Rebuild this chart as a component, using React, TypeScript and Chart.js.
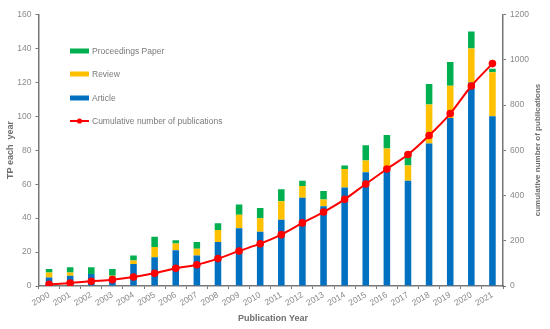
import React, { useEffect, useRef } from "react";
import { Chart, registerables } from "chart.js";

Chart.register(...registerables);

const years = ["2000","2001","2002","2003","2004","2005","2006","2007","2008","2009","2010","2011","2012","2013","2014","2015","2016","2017","2018","2019","2020","2021"];
const article = [5, 6, 7, 5, 13, 17, 21, 18, 26, 34, 32, 39, 52, 47, 58, 67, 68, 62, 84, 99, 120, 100];
const review = [3, 2, 0, 1, 2, 6, 4, 4, 7, 8, 8, 11, 7, 4, 11, 7, 13, 9, 23, 19, 20, 26];
const proceedings = [2, 3, 4, 4, 3, 6, 2, 4, 4, 6, 6, 7, 3, 5, 2, 9, 8, 8, 12, 14, 10, 2];
const cumulative = [7, 13, 21, 28, 40, 56, 78, 94, 121, 155, 187, 227, 279, 327, 383, 451, 517, 581, 665, 762, 884, 983];

const legendLabels = ["Proceedings Paper", "Review", "Article", "Cumulative number of publications"];
const leftTitle = "TP each  year";
const rightTitle = "cumulative number of publications";
const bottomTitle = "Publication Year";

const BLUE = "#0070C0";
const YELLOW = "#FFC000";
const GREEN = "#00B050";
const RED = "#FF0000";
const GREY = "#8a8a8a";
const AXIS = "#777777";
const FONT = "'Liberation Sans', Arial, Helvetica, sans-serif";

const overlayPlugin = {
  id: "overlay",
  afterDraw(chart: any) {
    const ctx = chart.ctx;
    ctx.save();
    const colors = [GREEN, YELLOW, BLUE];
    const ys = [51, 74, 98, 121];
    ctx.font = `8.5px ${FONT}`;
    ctx.textBaseline = "middle";
    ctx.textAlign = "left";
    for (let i = 0; i < 4; i++) {
      const y = ys[i];
      if (i < 3) {
        ctx.fillStyle = colors[i];
        ctx.fillRect(70, y - 2.5, 19, 5);
      } else {
        ctx.strokeStyle = RED;
        ctx.lineWidth = 2;
        ctx.beginPath();
        ctx.moveTo(70, y);
        ctx.lineTo(89, y);
        ctx.stroke();
        ctx.fillStyle = RED;
        ctx.beginPath();
        ctx.arc(79.5, y, 2.6, 0, Math.PI * 2);
        ctx.fill();
      }
      ctx.fillStyle = "#7a7a7a";
      ctx.fillText(legendLabels[i], 92, y + 0.5);
    }
    ctx.fillStyle = "#6e6e6e";
    ctx.font = `bold 9px ${FONT}`;
    ctx.textAlign = "center";
    ctx.fillText(bottomTitle, 273, 319);
    ctx.save();
    ctx.translate(11, 150);
    ctx.rotate(-Math.PI / 2);
    ctx.fillText(leftTitle, 0, 0);
    ctx.restore();
    ctx.save();
    ctx.font = `bold 8px ${FONT}`;
    ctx.translate(538, 150);
    ctx.rotate(-Math.PI / 2);
    ctx.fillText(rightTitle, 0, 0);
    ctx.restore();
    ctx.restore();
  },
};

export default function App() {
  const ref = useRef<HTMLCanvasElement>(null);
  useEffect(() => {
    if (!ref.current) return;
    const chart = new Chart(ref.current, {
      type: "bar",
      data: {
        labels: years,
        datasets: [
          {
            type: "line",
            label: legendLabels[3],
            data: cumulative,
            yAxisID: "y1",
            borderColor: RED,
            backgroundColor: RED,
            borderWidth: 2,
            pointRadius: 2.8,
            pointBackgroundColor: RED,
            pointBorderColor: RED,
            cubicInterpolationMode: "monotone",
            order: 0,
          } as any,
          {
            label: legendLabels[2],
            data: article,
            backgroundColor: BLUE,
            yAxisID: "y",
            stack: "s",
            order: 1,
            barPercentage: 0.31,
            categoryPercentage: 1,
          },
          {
            label: legendLabels[1],
            data: review,
            backgroundColor: YELLOW,
            yAxisID: "y",
            stack: "s",
            order: 1,
            barPercentage: 0.31,
            categoryPercentage: 1,
          },
          {
            label: legendLabels[0],
            data: proceedings,
            backgroundColor: GREEN,
            yAxisID: "y",
            stack: "s",
            order: 1,
            barPercentage: 0.31,
            categoryPercentage: 1,
          },
        ],
      },
      options: {
        responsive: false,
        animation: false,
        layout: { padding: { top: 14.5, left: 0, right: 0, bottom: 0 } },
        plugins: { legend: { display: false }, tooltip: { enabled: false } },
        scales: {
          x: {
            stacked: true,
            offset: true,
            grid: { display: true, drawOnChartArea: false, offset: true, tickLength: 3, color: AXIS, lineWidth: 1 },
            border: { display: true, color: AXIS, width: 1.5 },
            ticks: { color: GREY, font: { size: 8.5, family: FONT }, minRotation: 30, maxRotation: 30, autoSkip: false, padding: 1 },
            afterFit: (s: any) => { s.height = 43; },
          },
          y: {
            stacked: true,
            position: "left",
            min: 0,
            max: 160,
            ticks: { stepSize: 20, color: GREY, font: { size: 8.5, family: FONT }, padding: 4, callback: (v: any) => String(v) },
            grid: { display: true, drawOnChartArea: false, tickLength: 3, color: AXIS },
            border: { display: true, color: AXIS, width: 1.5 },
            afterFit: (s: any) => { s.width = 38.5; },
          },
          y1: {
            position: "right",
            min: 0,
            max: 1200,
            ticks: { stepSize: 200, color: GREY, font: { size: 8.5, family: FONT }, padding: 4, callback: (v: any) => String(v) },
            grid: { display: true, drawOnChartArea: false, tickLength: 3, color: AXIS },
            border: { display: true, color: AXIS, width: 1.5 },
            afterFit: (s: any) => { s.width = 47; },
          },
        },
      },
      plugins: [overlayPlugin],
    });
    return () => chart.destroy();
  }, []);
  return (
    <div style={{ position: "fixed", left: 0, top: 0, width: 550, height: 329, background: "#fff" }}>
      <canvas ref={ref} width={550} height={329} style={{ width: 550, height: 329 }} />
    </div>
  );
}
